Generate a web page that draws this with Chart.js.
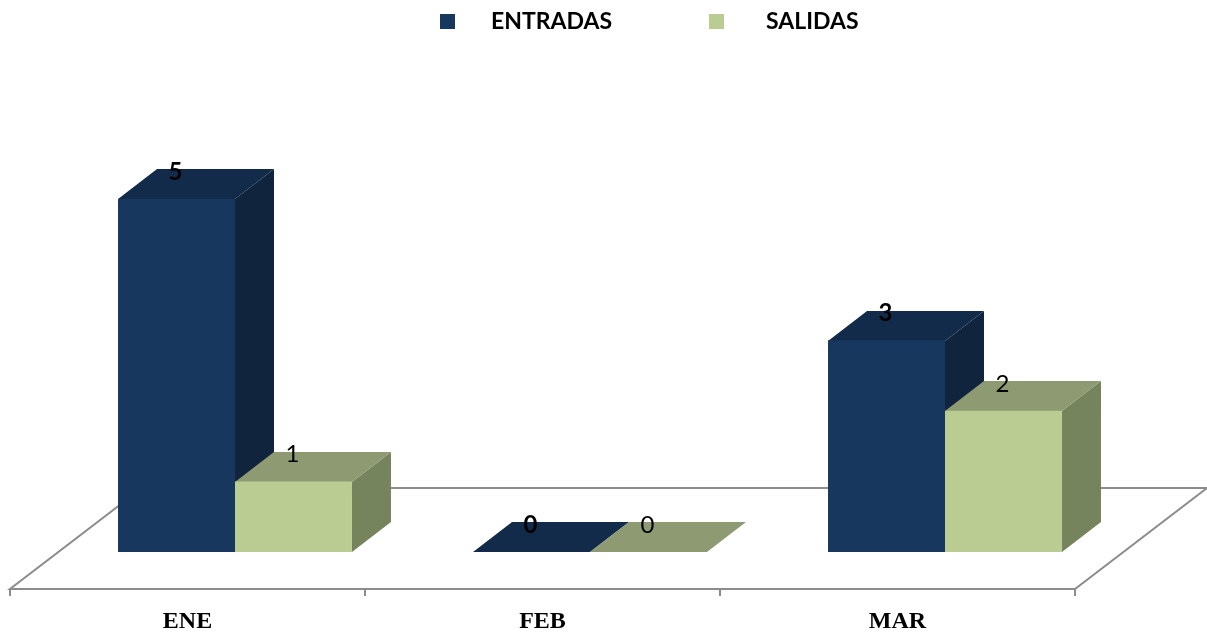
<!DOCTYPE html>
<html lang="es">
<head>
    <meta charset="utf-8">
    <title>Entradas y salidas</title>
    <script src="https://cdn.jsdelivr.net/npm/chart.js@4"></script>
    <style>
        html, body { margin: 0; padding: 0; background: #fff; }
        canvas { display: block; }
    </style>
</head>
<body>
    <canvas id="myChart" width="1207" height="634"></canvas>

    <script>
        var categories = ["ENE", "FEB", "MAR"];
        var entradas = [5, 0, 3];
        var salidas = [1, 0, 2];

        // 3D look: how far the back of a bar sits from its front
        var depthX = 39;
        var depthY = -30;
        // the front edge of the floor is shifted from the bars
        var floorShiftX = -47.5;

        var topColors = ["#122B4A", "#8D9A72"];
        var sideColors = ["#10243D", "#76845D"];
        var labelFonts = ["bold 24px Lato", "24px Lato"];

        function poly(ctx, pts) {
            ctx.beginPath();
            ctx.moveTo(pts[0][0], pts[0][1]);
            for (var i = 1; i < pts.length; i++) {
                ctx.lineTo(pts[i][0], pts[i][1]);
            }
            ctx.closePath();
        }

        var bars3d = {
            id: "bars3d",
            beforeDatasetsDraw: function (chart) {
                var ctx = chart.ctx;
                var x = chart.scales.x;
                var y0 = chart.scales.y.getPixelForValue(0);
                var step = x.getPixelForTick(1) - x.getPixelForTick(0);
                var frontY = y0 + 37;
                var backY = y0 - 64;
                var frontL = x.left + floorShiftX;
                var frontR = x.right + floorShiftX;

                // floor
                ctx.save();
                ctx.strokeStyle = "#8C8C8C";
                ctx.lineWidth = 2;
                poly(ctx, [[frontL, frontY], [frontR, frontY], [frontR + 132, backY], [frontL + 132, backY]]);
                ctx.stroke();
                for (var t = 0; t <= categories.length; t++) {
                    ctx.beginPath();
                    ctx.moveTo(frontL + t * step, frontY);
                    ctx.lineTo(frontL + t * step, frontY + 7);
                    ctx.stroke();
                }

                // top and side faces, the front faces are the normal bars
                chart.data.datasets.forEach(function (ds, d) {
                    chart.getDatasetMeta(d).data.forEach(function (bar) {
                        var l = bar.x - bar.width / 2;
                        var r = bar.x + bar.width / 2;
                        // ceil so the dark side behind does not show through at the bar's top edge
                        var top = Math.ceil(bar.y);
                        ctx.fillStyle = sideColors[d];
                        poly(ctx, [[r, top], [r + depthX, top + depthY], [r + depthX, bar.base + depthY], [r, bar.base]]);
                        ctx.fill();
                        ctx.fillStyle = topColors[d];
                        poly(ctx, [[l, top], [l + depthX, top + depthY], [r + depthX, top + depthY], [r, top]]);
                        ctx.fill();
                    });
                });
                ctx.restore();
            },
            afterDatasetsDraw: function (chart) {
                var ctx = chart.ctx;
                ctx.save();
                ctx.fillStyle = "#000";
                ctx.textAlign = "center";
                ctx.textBaseline = "middle";
                chart.data.datasets.forEach(function (ds, d) {
                    ctx.font = labelFonts[d];
                    chart.getDatasetMeta(d).data.forEach(function (bar, i) {
                        ctx.fillText(ds.data[i], bar.x - 1, bar.y - 27);
                    });
                });

                // legend, the gap between box and text is too wide for the built in one
                var boxX = [440, 709];
                var textX = [491, 766];
                ctx.textAlign = "left";
                ctx.font = "bold 23px Lato";
                chart.data.datasets.forEach(function (ds, d) {
                    ctx.fillStyle = ds.backgroundColor;
                    ctx.fillRect(boxX[d], 14, 15, 15);
                    ctx.fillStyle = "#000";
                    ctx.fillText(ds.label, textX[d], 22);
                });
                ctx.restore();
            }
        };

        new Chart(document.getElementById("myChart"), {
            type: "bar",
            data: {
                labels: categories,
                datasets: [
                    { label: "ENTRADAS", data: entradas, backgroundColor: "#17375E", borderWidth: 0 },
                    { label: "SALIDAS", data: salidas, backgroundColor: "#BBCC92", borderWidth: 0 }
                ]
            },
            options: {
                responsive: false,
                animation: false,
                devicePixelRatio: 1,
                categoryPercentage: 0.659,
                barPercentage: 1,
                layout: {
                    padding: { left: 57.5, right: 84.5, top: 199, bottom: 2 }
                },
                plugins: {
                    legend: { display: false },
                    tooltip: { enabled: false }
                },
                scales: {
                    x: {
                        // tick padding gets counted twice in the height, so set it here
                        afterFit: function (scale) { scale.height = 80; },
                        grid: { display: false, drawTicks: false },
                        border: { display: false },
                        ticks: {
                            color: "#000",
                            padding: 58,
                            labelOffset: floorShiftX,
                            maxRotation: 0,
                            autoSkip: false,
                            font: { family: "'Liberation Serif'", size: 24, weight: "bold", lineHeight: 1 }
                        }
                    },
                    y: {
                        display: false,
                        min: 0,
                        max: 5
                    }
                }
            },
            plugins: [bars3d]
        });
    </script>
</body>
</html>
